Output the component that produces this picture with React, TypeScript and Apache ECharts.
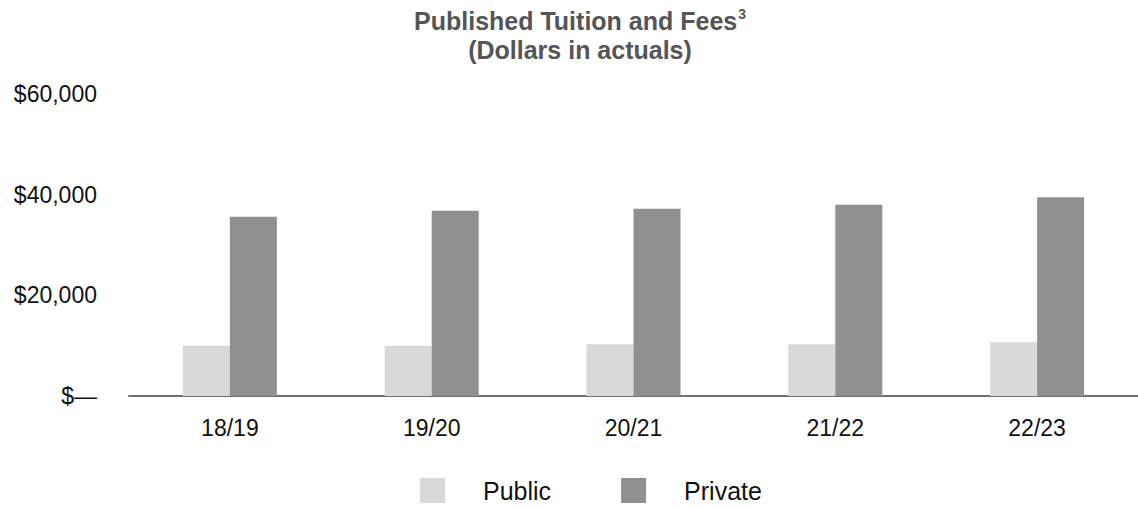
import React, { useEffect, useRef } from "react";
import * as echarts from "echarts";

const categories = ["18/19", "19/20", "20/21", "21/22", "22/23"];
const publicValues = [10000, 10000, 10300, 10300, 10700];
const privateValues = [35600, 36800, 37200, 38000, 39500];
const yTicks = [0, 20000, 40000, 60000];

const FONT = "Liberation Sans, Arial, Helvetica, sans-serif";

export default function App() {
  const ref = useRef<HTMLDivElement>(null);

  useEffect(() => {
    if (!ref.current) return;
    const chart = echarts.init(ref.current, null, { renderer: "svg" });
    chart.setOption({
      animation: false,
      backgroundColor: "#ffffff",
      textStyle: { fontFamily: FONT },
      graphic: [
        {
          type: "text",
          x: 580,
          y: 7,
          style: {
            text: "{t|Published Tuition and Fees}{s|3}\n{t|(Dollars in actuals)}",
            align: "center",
            verticalAlign: "top",
            fontFamily: FONT,
            rich: {
              t: {
                fontSize: 25,
                fontWeight: "bold",
                fill: "#555555",
                color: "#555555",
                lineHeight: 28.5,
                fontFamily: FONT,
              },
              s: {
                fontSize: 14,
                fontWeight: "bold",
                fill: "#555555",
                color: "#555555",
                lineHeight: 28.5,
                verticalAlign: "top",
                fontFamily: FONT,
                padding: [0, 0, 10, 1],
              },
            },
          },
        },
      ],
      legend: {
        left: 420,
        top: 478,
        padding: 0,
        itemWidth: 25,
        itemHeight: 25,
        itemGap: 70,
        icon: "rect",
        data: ["Public", "Private"],
        textStyle: {
          fontSize: 25,
          color: "#111111",
          fontFamily: FONT,
          padding: [0, 0, 0, 33],
        },
      },
      grid: {
        left: 129,
        right: -6,
        top: 94,
        bottom: 110,
        containLabel: false,
      },
      xAxis: {
        type: "category",
        data: categories,
        axisLine: { show: true, lineStyle: { color: "#707070", width: 2 } },
        axisTick: { show: false },
        axisLabel: {
          fontSize: 23,
          lineHeight: 23,
          color: "#111111",
          margin: 20,
          fontFamily: FONT,
        },
      },
      yAxis: {
        type: "value",
        min: yTicks[0],
        max: yTicks[yTicks.length - 1],
        interval: 20000,
        splitLine: { show: false },
        axisLine: { show: false },
        axisTick: { show: false },
        axisLabel: {
          fontSize: 23,
          color: "#111111",
          margin: 32,
          fontFamily: FONT,
          formatter: (v: number) =>
            v === 0 ? "$\u2014" : "$" + v.toLocaleString("en-US"),
        },
      },
      series: [
        {
          name: "Public",
          type: "bar",
          data: publicValues,
          barWidth: 47,
          barGap: "0%",
          itemStyle: { color: "#d9d9d9" },
        },
        {
          name: "Private",
          type: "bar",
          data: privateValues,
          barWidth: 47,
          barGap: "0%",
          itemStyle: { color: "#909090" },
        },
      ],
    });
    return () => chart.dispose();
  }, []);

  return (
    <div
      ref={ref}
      style={{ position: "absolute", left: 0, top: 0, width: 1138, height: 506 }}
    />
  );
}
